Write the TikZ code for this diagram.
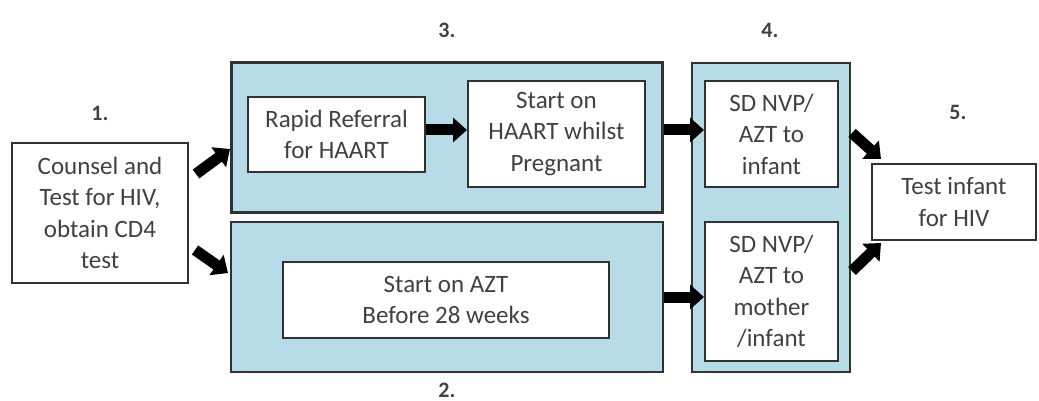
\documentclass[tikz,border=0pt]{standalone}
\usepackage{fontspec}
\setmainfont{Carlito}
\usetikzlibrary{arrows.meta}
\definecolor{panelblue}{RGB}{183,220,232}
\definecolor{edge}{RGB}{50,50,50}
\definecolor{txt}{RGB}{65,65,65}
\begin{document}
\begin{tikzpicture}[x=1pt,y=-1pt,
  panel/.style={draw=edge,line width=2.2pt,fill=panelblue,inner sep=0pt},
  wbox/.style={draw=edge,line width=2pt,fill=white,inner sep=0pt,align=center,
    text=txt,font=\fontsize{25}{31.5}\selectfont},
  steplabel/.style={text=txt,inner sep=0pt,font=\fontsize{22}{24}\selectfont\bfseries},
  blockarrow/.style={line width=11pt,black,-{Triangle[width=24pt,length=14pt]}}]
\useasboundingbox (0,0) rectangle (1039,401);
% panels
\node[panel,minimum width=431pt,minimum height=150pt] (p3) at (447,137.5) {};
\node[panel,minimum width=432pt,minimum height=150pt] (p2) at (447,297) {};
\node[panel,minimum width=158pt,minimum height=309pt] (p4) at (771,217.5) {};
% boxes
\node[wbox,minimum width=176pt,minimum height=140pt] (b1) at (100,213)
  {Counsel and\\Test for HIV,\\obtain CD4\\test};
\node[wbox,minimum width=177pt,minimum height=75pt] (rr) at (336.5,134.5)
  {Rapid Referral\\for HAART};
\node[wbox,minimum width=177pt,minimum height=106pt] (sh) at (556.5,134)
  {Start on\\HAART whilst\\Pregnant};
\node[wbox,minimum width=326pt,minimum height=76pt] (az) at (446,300)
  {Start on AZT\\Before 28 weeks};
\node[wbox,minimum width=133pt,minimum height=106pt] (sdi) at (771.5,134)
  {SD NVP/\\AZT to\\infant};
\node[wbox,minimum width=133pt,minimum height=139pt] (sdm) at (771.5,291.5)
  {SD NVP/\\AZT to\\mother\\/infant};
\node[wbox,minimum width=164pt,minimum height=76pt] (ti) at (954,202)
  {Test infant\\for HIV};
% labels
\node[steplabel] (l1) at (100,113) {1.};
\node[steplabel] (l2) at (447,390) {2.};
\node[steplabel] (l3) at (447,30) {3.};
\node[steplabel] (l4) at (770,30) {4.};
\node[steplabel] (l5) at (958,112) {5.};
% arrow end points
\coordinate (a1s) at (196,174);
\coordinate (a1e) at (230,149);
\coordinate (a2s) at (195,250);
\coordinate (a2e) at (228,273);
\coordinate (a5s) at (852,133);
\coordinate (a5e) at (881,159);
\coordinate (a6s) at (852,271);
\coordinate (a6e) at (881,243);
% arrows
\draw[blockarrow] (a1s) -- (a1e);
\draw[blockarrow] (a2s) -- (a2e);
\draw[blockarrow] (rr.east |- 0,130) -- (sh.west |- 0,130);
\draw[blockarrow] (p3.east |- 0,130) -- (sdi.west |- 0,130);
\draw[blockarrow] (p2.east |- 0,297) -- (sdm.west |- 0,297);
\draw[blockarrow] (a5s) -- (a5e);
\draw[blockarrow] (a6s) -- (a6e);
\end{tikzpicture}
\end{document}
